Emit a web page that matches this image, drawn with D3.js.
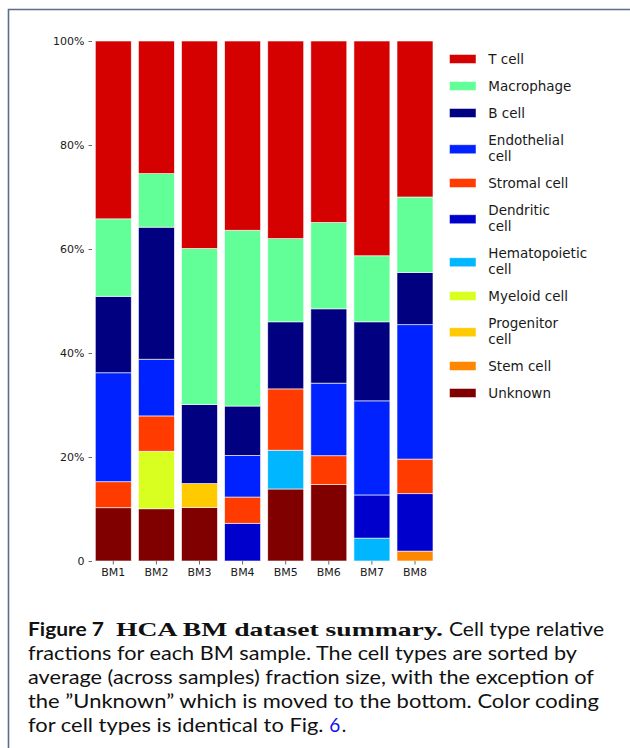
<!DOCTYPE html>
<html>
<head>
<meta charset="utf-8">
<script src="https://cdn.jsdelivr.net/npm/d3@7"></script>
<style>
  html, body { margin: 0; padding: 0; background: #fff; }
  svg { display: block; }
  .pre { white-space: pre; }
</style>
</head>
<body>
<svg id="chart" width="630" height="748"></svg>
<script>
// ---------- data ----------
const samples = ["BM1", "BM2", "BM3", "BM4", "BM5", "BM6", "BM7", "BM8"];
// legend order (top to bottom); stacking is the reverse (Unknown at bottom)
const cellTypes = ["T cell", "Macrophage", "B cell", "Endothelial cell", "Stromal cell",
  "Dendritic cell", "Hematopoietic cell", "Myeloid cell", "Progenitor cell", "Stem cell", "Unknown"];
const legendLabels = ["T cell", "Macrophage", "B cell", "Endothelial\ncell", "Stromal cell",
  "Dendritic\ncell", "Hematopoietic\ncell", "Myeloid cell", "Progenitor\ncell", "Stem cell", "Unknown"];
const colors = ["#d50000", "#62ff98", "#000080", "#0022ff", "#ff3b00",
  "#0000cc", "#00b7ff", "#d8ff1f", "#ffcb00", "#ff8700", "#800000"];

// percentages per sample (BM1..BM8)
const tCell        = [34.2, 25.5, 39.9, 36.4, 38.0, 34.9, 41.3, 30.0];
const macrophage   = [14.9, 10.3, 30.0, 33.8, 16.0, 16.6, 12.7, 14.5];
const bCell        = [14.7, 25.4, 15.2,  9.5, 12.9, 14.3, 15.2, 10.05];
const endothelial  = [20.95, 10.9, 0,    8.0,  0,   13.95, 18.1, 25.85];
const stromal      = [5.0,  6.8,  0,    5.05, 11.8,  5.55, 0,    6.65];
const dendritic    = [0,    0,    0,    7.25, 0,    0,    8.3, 11.05];
const hematopoietic= [0,    0,    0,    0,    7.45, 0,    4.4,  0];
const myeloid      = [0,   11.05, 0,    0,    0,    0,    0,    0];
const progenitor   = [0,    0,    4.6,  0,    0,    0,    0,    0];
const stemCell     = [0,    0,    0,    0,    0,    0,    0,    1.9];
const unknown      = [10.25, 10.05, 10.3, 0, 13.85, 14.7, 0,    0];

const yTicks = [0, 20, 40, 60, 80, 100];
const yTickLabels = ["0", "20%", "40%", "60%", "80%", "100%"];

const seriesValues = [tCell, macrophage, bCell, endothelial, stromal, dendritic,
  hematopoietic, myeloid, progenitor, stemCell, unknown];

// ---------- build table ----------
const table = samples.map((s, i) => {
  const row = { sample: s };
  cellTypes.forEach((c, k) => row[c] = seriesValues[k][i]);
  return row;
});
const stackKeys = cellTypes.slice().reverse();
const stacked = d3.stack().keys(stackKeys)(table);
const color = d3.scaleOrdinal().domain(cellTypes).range(colors);

// ---------- layout ----------
const svg = d3.select("#chart");
const x = d3.scaleBand().domain(samples).range([91.75, 436.55]).paddingInner(0.165).paddingOuter(0.0825);
const y = d3.scaleLinear().domain([0, 100]).range([561, 41]);

// frame
svg.append("path")
  .attr("d", "M8.5,748 V9.5 H630")
  .attr("fill", "none").attr("stroke", "#5a6d8c").attr("stroke-width", 1.6);

// bars
svg.append("g").selectAll("g").data(stacked).join("g")
  .attr("fill", d => color(d.key))
  .selectAll("rect").data(d => d.filter(p => p[1] - p[0] > 0)).join("rect")
  .attr("x", d => x(d.data.sample))
  .attr("width", x.bandwidth())
  .attr("y", d => y(d[1]))
  .attr("height", d => y(d[0]) - y(d[1]))
  .attr("stroke", "#ffffff").attr("stroke-opacity", 0.75).attr("stroke-width", 0.8);

// y axis
const yAxis = d3.axisLeft(y).tickValues(yTicks)
  .tickFormat((d, i) => yTickLabels[i]).tickSize(3.5).tickPadding(4);
const gy = svg.append("g").attr("transform", "translate(92,0)").call(yAxis);
gy.select(".domain").remove();
gy.selectAll(".tick line").attr("stroke", "#444").attr("stroke-width", 0.8);
gy.selectAll(".tick text").attr("font-family", "DejaVu Sans").attr("font-size", 11).attr("fill", "#1a1a1a");

// x axis
const xAxis = d3.axisBottom(x).tickSize(3.5).tickPadding(3.5);
const gx = svg.append("g").attr("transform", "translate(0,561)").call(xAxis);
gx.select(".domain").remove();
gx.selectAll(".tick line").attr("stroke", "#444").attr("stroke-width", 0.8);
gx.selectAll(".tick text").attr("font-family", "DejaVu Sans").attr("font-size", 11).attr("fill", "#1a1a1a");

// legend
const lg = svg.append("g");
const fs = 13.5, lineH = 16, h1 = 27;
let prevH = null, cy = 59;
legendLabels.forEach((lab, i) => {
  const lines = lab.split("\n");
  const h = h1 + lineH * (lines.length - 1);
  if (prevH !== null) cy += (prevH + h) / 2;
  prevH = h;
  const patchY = cy + (lines.length - 1) * 1.25;
  lg.append("rect").attr("x", 449.5).attr("y", patchY - 4.5).attr("width", 26.5).attr("height", 9)
    .attr("fill", colors[i]).attr("stroke", "#ffffff").attr("stroke-opacity", 0.6).attr("stroke-width", 0.8);
  const t = lg.append("text").attr("font-family", "DejaVu Sans").attr("font-size", fs).attr("fill", "#1a1a1a");
  lines.forEach((ln, k) => {
    const lc = cy + (k - (lines.length - 1) / 2) * lineH;
    t.append("tspan").attr("x", 488.3).attr("y", lc + 4.9).text(ln);
  });
});

// caption
const cap = svg.append("g").attr("fill", "#111");
const sansFont = "Lato";
const capFs = 19;
const capLines = [
  null,
  "fractions for each BM sample. The cell types are sorted by",
  "average (across samples) fraction size, with the exception of",
  "the \u201DUnknown\u201D which is moved to the bottom. Color coding",
  "for cell types is identical to Fig."
];
const capRight = [604, 577, 594, 599, 347];
const baseY = 636, capLH = 24, capX = 28;

// line 1
cap.append("text").attr("x", capX).attr("y", baseY).attr("font-family", sansFont)
  .attr("font-weight", "bold").attr("font-size", capFs)
  .attr("textLength", 104 - capX).attr("lengthAdjust", "spacingAndGlyphs").text("Figure 7");
cap.append("text").attr("x", 116).attr("y", baseY).attr("font-family", "Liberation Serif")
  .attr("font-weight", "bold").attr("font-size", capFs)
  .attr("textLength", 327).attr("lengthAdjust", "spacingAndGlyphs").text("HCA BM dataset summary.");
cap.append("text").attr("x", 449).attr("y", baseY).attr("font-family", sansFont)
  .attr("font-size", capFs).attr("textLength", capRight[0] - 449)
  .attr("lengthAdjust", "spacingAndGlyphs").text("Cell type relative");

for (let k = 1; k < 4; k++) {
  cap.append("text").attr("x", capX).attr("y", baseY + k * capLH)
    .attr("font-family", sansFont).attr("font-size", capFs)
    .attr("textLength", capRight[k] - capX).attr("lengthAdjust", "spacingAndGlyphs")
    .text(capLines[k]);
}
// line 5 with blue reference number
{
  const yy = baseY + 4 * capLH;
  const probe = cap.append("text").attr("font-family", sansFont).attr("font-size", capFs)
    .text(capLines[4] + " 6.");
  const fullW = probe.node().getComputedTextLength();
  probe.remove();
  const probeSp = cap.append("text").attr("font-family", sansFont).attr("font-size", capFs)
    .text("a a");
  const probeNo = cap.append("text").attr("font-family", sansFont).attr("font-size", capFs)
    .text("aa");
  const spaceW = probeSp.node().getComputedTextLength() - probeNo.node().getComputedTextLength();
  probeSp.remove(); probeNo.remove();
  const ratio = (capRight[4] - capX) / fullW;
  const main = cap.append("text").attr("x", capX).attr("y", yy)
    .attr("font-family", sansFont).attr("font-size", capFs).text(capLines[4]);
  const mainW = main.node().getComputedTextLength() * ratio;
  main.attr("textLength", mainW).attr("lengthAdjust", "spacingAndGlyphs");
  const sixX = capX + mainW + spaceW * ratio;
  const six = cap.append("text").attr("x", sixX).attr("y", yy)
    .attr("font-family", sansFont).attr("font-size", capFs).attr("fill", "#1010f0").text("6");
  const sixW = six.node().getComputedTextLength() * ratio;
  cap.append("text").attr("x", sixX + sixW).attr("y", yy)
    .attr("font-family", sansFont).attr("font-size", capFs).text(".");
}
</script>
</body>
</html>
